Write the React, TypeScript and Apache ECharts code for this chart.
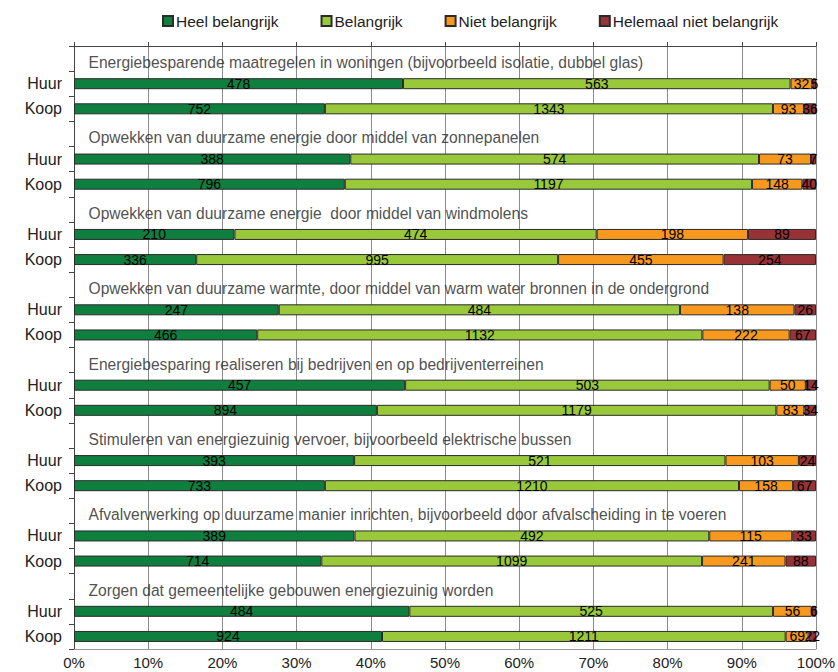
import React, { useEffect, useRef } from "react";
import * as echarts from "echarts";

const seriesNames = ["Heel belangrijk", "Belangrijk", "Niet belangrijk", "Helemaal niet belangrijk"];
const seriesColors = ["#0e7f3e", "#99c93a", "#f7991e", "#983236"];

const groupTitles = [
  "Energiebesparende maatregelen in woningen (bijvoorbeeld isolatie, dubbel glas)",
  "Opwekken van duurzame energie door middel van zonnepanelen",
  "Opwekken van duurzame energie  door middel van windmolens",
  "Opwekken van duurzame warmte, door middel van warm water bronnen in de ondergrond",
  "Energiebesparing realiseren bij bedrijven en op bedrijventerreinen",
  "Stimuleren van energiezuinig vervoer, bijvoorbeeld elektrische bussen",
  "Afvalverwerking op duurzame manier inrichten, bijvoorbeeld door afvalscheiding in te voeren",
  "Zorgen dat gemeentelijke gebouwen energiezuinig worden",
];
const rowLabels = ["Huur", "Koop"];

// per bar, order: group1 Huur, group1 Koop, group2 Huur, ...
const heel = [478, 752, 388, 796, 210, 336, 247, 466, 457, 894, 393, 733, 389, 714, 484, 924];
const belangrijk = [563, 1343, 574, 1197, 474, 995, 484, 1132, 503, 1179, 521, 1210, 492, 1099, 525, 1211];
const niet = [32, 93, 73, 148, 198, 455, 138, 222, 50, 83, 103, 158, 115, 241, 56, 69];
const helemaal = [5, 36, 7, 40, 89, 254, 26, 67, 14, 34, 24, 67, 33, 88, 6, 22];

const FONT = "Liberation Sans, Arial, sans-serif";

export default function App() {
  const ref = useRef<HTMLDivElement>(null);
  useEffect(() => {
    if (!ref.current) return;
    const chart = echarts.init(ref.current, null, { renderer: "svg" });
    const all = [heel, belangrijk, niet, helemaal];
    const totals = heel.map((_, i) => all.reduce((s, a) => s + a[i], 0));

    const yCats: string[] = [];
    const barRowIndex: number[] = [];
    const titleRowIndex: number[] = [];
    groupTitles.forEach(() => {
      titleRowIndex.push(yCats.length);
      yCats.push("");
      rowLabels.forEach((r) => {
        barRowIndex.push(yCats.length);
        yCats.push(r);
      });
    });

    const barSeries = all.map((arr, si) => {
      const data: any[] = yCats.map(() => "-");
      barRowIndex.forEach((row, bi) => {
        data[row] = { value: (arr[bi] / totals[bi]) * 100, raw: arr[bi] };
      });
      return {
        name: seriesNames[si],
        type: "bar",
        stack: "total",
        barWidth: 11,
        data,
        itemStyle: { color: seriesColors[si], borderColor: "#2b2b2b", borderWidth: 1 },
        label: {
          show: true,
          position: "inside",
          color: "#000",
          fontSize: 14,
          fontFamily: FONT,
          offset: [0, 0],
          formatter: (p: any) => String(p.data.raw),
        },
      };
    });

    const titleSeries = {
      type: "scatter",
      symbolSize: 1,
      itemStyle: { color: "rgba(0,0,0,0)" },
      silent: true,
      legendHoverLink: false,
      data: titleRowIndex.map((row, g) => ({ value: [0, row], name: groupTitles[g] })),
      label: {
        show: true,
        position: "right",
        distance: 14,
        offset: [0, 4],
        color: "#222",
        fontSize: 15.6,
        fontFamily: FONT,
        formatter: (p: any) => p.name,
      },
    };

    chart.setOption({
      animation: false,
      textStyle: { fontFamily: FONT },
      legend: {
        data: seriesNames,
        left: 157,
        top: 8,
        icon: "rect",
        itemWidth: 10,
        itemHeight: 10,
        itemGap: 42,
        textStyle: { fontSize: 15.5, color: "#222", padding: [0, 0, 0, -2] },
      },
      grid: { left: 74, right: 22, top: 46, bottom: 23, outerBoundsMode: "none", containLabel: false },
      xAxis: [
        {
          type: "value",
          min: 0,
          max: 100,
          interval: 10,
          position: "bottom",
          axisLine: { show: true, lineStyle: { color: "#9a9a9a", width: 1 } },
          axisTick: { show: false },
          axisLabel: { formatter: "{value}%", fontSize: 15, color: "#222", margin: 5, lineHeight: 16 },
          splitLine: { show: true, lineStyle: { color: "#8c8c8c", width: 1 } },
        },
        {
          type: "value",
          min: 0,
          max: 100,
          interval: 10,
          position: "top",
          axisLine: { show: true, lineStyle: { color: "#444", width: 1 } },
          axisTick: { show: true, length: 4, lineStyle: { color: "#444" } },
          axisLabel: { show: false },
          splitLine: { show: false },
        },
      ],
      yAxis: {
        type: "category",
        inverse: true,
        data: yCats,
        axisLine: { show: true, lineStyle: { color: "#444", width: 1 } },
        axisTick: { show: true, length: 5, lineStyle: { color: "#444" } },
        axisLabel: { fontSize: 16, color: "#222", margin: 12 },
        splitLine: { show: false },
      },
      series: [...barSeries, titleSeries],
    });
    return () => chart.dispose();
  }, []);
  return (
    <div
      ref={ref}
      style={{ position: "fixed", left: 0, top: 0, width: 838, height: 672, background: "#fff" }}
    />
  );
}
